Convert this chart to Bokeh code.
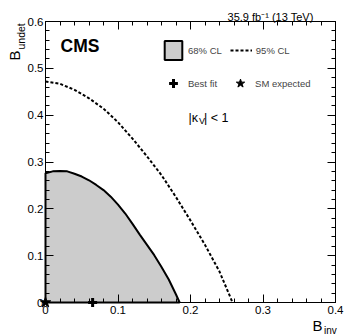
import math
from bokeh.plotting import figure
from bokeh.models import (Range1d, LinearAxis, Label, Legend, LegendItem,
                          FixedTicker, NumeralTickFormatter, CustomJSTickFormatter)
from bokeh.embed import file_html
from bokeh.resources import INLINE

FONT = "Liberation Sans"

# 68% CL contour (B_inv, B_undet)
b_inv_68 = [0.0, 0.01, 0.02, 0.03, 0.04, 0.05, 0.06, 0.07, 0.08, 0.09, 0.10,
            0.11, 0.12, 0.13, 0.14, 0.15, 0.16, 0.17, 0.18, 0.185]
b_undet_68 = [0.276, 0.280, 0.281, 0.280, 0.275, 0.269, 0.261, 0.251, 0.240, 0.226,
              0.209, 0.190, 0.168, 0.145, 0.123, 0.101, 0.076, 0.049, 0.017, 0.0]

# 95% CL contour
b_inv_95 = [0.0, 0.02, 0.04, 0.06, 0.08, 0.10, 0.12, 0.14, 0.16, 0.18, 0.20,
            0.22, 0.24, 0.258]
b_undet_95 = [0.472, 0.467, 0.454, 0.436, 0.414, 0.385, 0.350, 0.312, 0.272, 0.225,
              0.175, 0.123, 0.066, 0.0]

best_fit_x = [0.065]
best_fit_y = [0.0]
sm_x = [0.0]
sm_y = [0.0]

x_lo, x_hi = 0.0, 0.4
y_lo, y_hi = 0.0, 0.6
x_ticks = [0.0, 0.1, 0.2, 0.3, 0.4]
y_ticks = [0.0, 0.1, 0.2, 0.3, 0.4, 0.5, 0.6]
x_minor = [i * 0.02 for i in range(21)]
y_minor = [i * 0.02 for i in range(31)]

W, H = 349, 335
# plotting box inside the canvas (pixels)
BOX_L, BOX_R, BOX_T, BOX_B = 45, 335, 21, 302
sx = (BOX_R - BOX_L) / (x_hi - x_lo)
sy = (BOX_B - BOX_T) / (y_hi - y_lo)
x_range = Range1d(x_lo - BOX_L / sx, x_hi + (W - BOX_R) / sx)
y_range = Range1d(y_lo - (H - BOX_B) / sy, y_hi + BOX_T / sy)

p = figure(width=W, height=H, x_range=x_range, y_range=y_range,
           output_backend="svg", toolbar_location=None,
           x_axis_type=None, y_axis_type=None, min_border=0)
p.outline_line_color = None
p.background_fill_color = "white"
p.border_fill_color = "white"


def make_axis(ticks, minor, labels, loc, bounds):
    ax = LinearAxis(ticker=FixedTicker(ticks=ticks, minor_ticks=minor),
                    fixed_location=loc, bounds=bounds)
    if labels:
        ax.formatter = NumeralTickFormatter(format="0.[0]")
        ax.major_label_text_font_size = "11.5px"
    else:
        ax.formatter = CustomJSTickFormatter(code="return ''")
        ax.major_label_standoff = 0
    ax.major_tick_in = 8
    ax.major_tick_out = 0
    ax.minor_tick_in = 4
    ax.minor_tick_out = 0
    ax.axis_line_color = "black"
    ax.major_tick_line_color = "black"
    ax.minor_tick_line_color = "black"
    ax.major_label_text_font = FONT
    ax.major_label_text_color = "black"
    return ax


xb = make_axis(x_ticks, x_minor, True, y_lo, (x_lo, x_hi))
xb.major_label_standoff = 3
yl = make_axis(y_ticks, y_minor, True, x_lo, (y_lo, y_hi))
yl.major_label_standoff = 2
p.add_layout(xb, "below")
p.add_layout(yl, "left")
p.add_layout(make_axis(x_ticks, x_minor, False, y_hi, (x_lo, x_hi)), "above")
p.add_layout(make_axis(y_ticks, y_minor, False, x_hi, (y_lo, y_hi)), "right")

# 68% filled region (outline = the 68% contour)
fill_x = b_inv_68 + [x_lo]
fill_y = b_undet_68 + [y_lo]
r68 = p.patch(fill_x, fill_y, fill_color="#cccccc", line_color="black", line_width=2)
r95 = p.line(b_inv_95, b_undet_95, line_color="black", line_width=2, line_dash="3 2")

r_best = p.scatter(best_fit_x, best_fit_y, marker="cross", size=9, line_width=3,
                   color="black")
r_sm = p.scatter(sm_x, sm_y, marker="star", size=11, color="black")

leg1 = Legend(items=[LegendItem(label="68% CL", renderers=[r68]),
                     LegendItem(label="95% CL", renderers=[r95])],
              orientation="horizontal", location=(162, H - 62),
              glyph_width=22, glyph_height=24, label_height=24,
              label_standoff=4, spacing=8, padding=0, margin=0,
              label_text_font=FONT, label_text_font_size="9.5px",
              background_fill_alpha=0, border_line_alpha=0)
leg2 = Legend(items=[LegendItem(label="Best fit", renderers=[r_best]),
                     LegendItem(label="SM expected", renderers=[r_sm])],
              orientation="horizontal", location=(162, H - 94),
              glyph_width=22, glyph_height=22, label_height=22,
              label_standoff=4, spacing=12, padding=0, margin=0,
              label_text_font=FONT, label_text_font_size="9.5px",
              background_fill_alpha=0, border_line_alpha=0)
p.add_layout(leg1)
p.add_layout(leg2)


def px_x(px):
    return x_lo + (px - BOX_L) / sx


def px_y(py):
    return y_lo + (BOX_B - py) / sy


def txt(xp, yp, text, size, **kw):
    p.add_layout(Label(x=px_x(xp), y=px_y(yp), text=text, text_font=FONT,
                       text_font_size=size, text_color="black", **kw))


txt(60, 45, "CMS", "17.5px", text_font_style="bold", text_baseline="middle")
txt(313, 16.5, "35.9 fb\u207b\u00b9 (13 TeV)", "11px", text_align="right",
    text_baseline="alphabetic")
# |kappa_V| < 1
txt(188, 117, "|\u03ba", "12.5px", text_baseline="alphabetic")
txt(198.5, 120, "V", "9px", text_baseline="alphabetic")
txt(203.5, 117, "| < 1", "12.5px", text_baseline="alphabetic")

# axis titles
txt(312, 325, "B", "15px", text_baseline="alphabetic")
txt(323.5, 329.5, "inv", "10px", text_baseline="alphabetic")
txt(13.5, 60, "B", "15px", text_baseline="alphabetic", angle=math.pi / 2)
txt(20.5, 49, "undet", "10.5px", text_baseline="alphabetic", angle=math.pi / 2)

open("out.html", "w").write(file_html(p, INLINE))
